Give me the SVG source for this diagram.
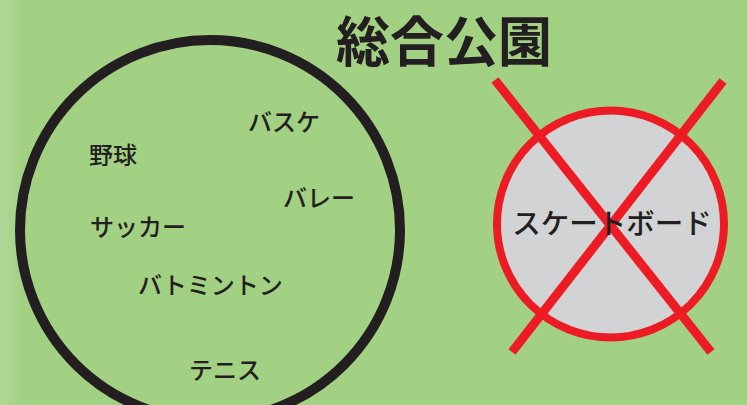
<svg xmlns="http://www.w3.org/2000/svg" width="747" height="405" viewBox="0 0 747 405">
  <defs>
    <linearGradient id="bg" x1="0" y1="0" x2="1" y2="0">
      <stop offset="0" stop-color="#b0d898"/>
      <stop offset="0.03" stop-color="#a3d183"/>
      <stop offset="1" stop-color="#a3d183"/>
    </linearGradient>
    <style>
      .lbl { font-family: "Noto Sans CJK JP", "Noto Sans", sans-serif; font-size: 24px; font-weight: 500; fill: #231f20; }
      .title { font-family: "Noto Sans CJK JP", "Noto Sans", sans-serif; font-size: 54px; font-weight: 700; fill: #231f20; }
      .cross { stroke: #ed1c24; stroke-width: 9; fill: none; }
    </style>
  </defs>
  <rect x="0" y="0" width="747" height="405" fill="url(#bg)"/>
  <g id="title">
    <text class="title" x="444" y="62" text-anchor="middle">総合公園</text>
  </g>
  <g id="park">
    <circle cx="210" cy="230" r="190" fill="none" stroke="#231f20" stroke-width="10"/>
  </g>
  <g id="baseball"><text class="lbl" x="89" y="164">野球</text></g>
  <g id="basket"><text class="lbl" x="248" y="131">バスケ</text></g>
  <g id="volley"><text class="lbl" x="283" y="207">バレー</text></g>
  <g id="soccer"><text class="lbl" x="90" y="236">サッカー</text></g>
  <g id="badminton"><text class="lbl" x="138" y="294">バトミントン</text></g>
  <g id="tennis"><text class="lbl" x="189" y="379">テニス</text></g>
  <g id="skateboard">
    <circle cx="610.5" cy="224" r="113.5" fill="#d1d3d4" stroke="#ed1c24" stroke-width="8"/>
  </g>
  <g id="connectors">
    <line class="cross" x1="495" y1="80" x2="711" y2="352"/>
    <line class="cross" x1="723" y1="81" x2="512" y2="352"/>
  </g>
  <g id="skateboard-label">
    <text class="lbl" x="612" y="234" text-anchor="middle" style="font-size:28.5px">スケートボード</text>
  </g>
</svg>
